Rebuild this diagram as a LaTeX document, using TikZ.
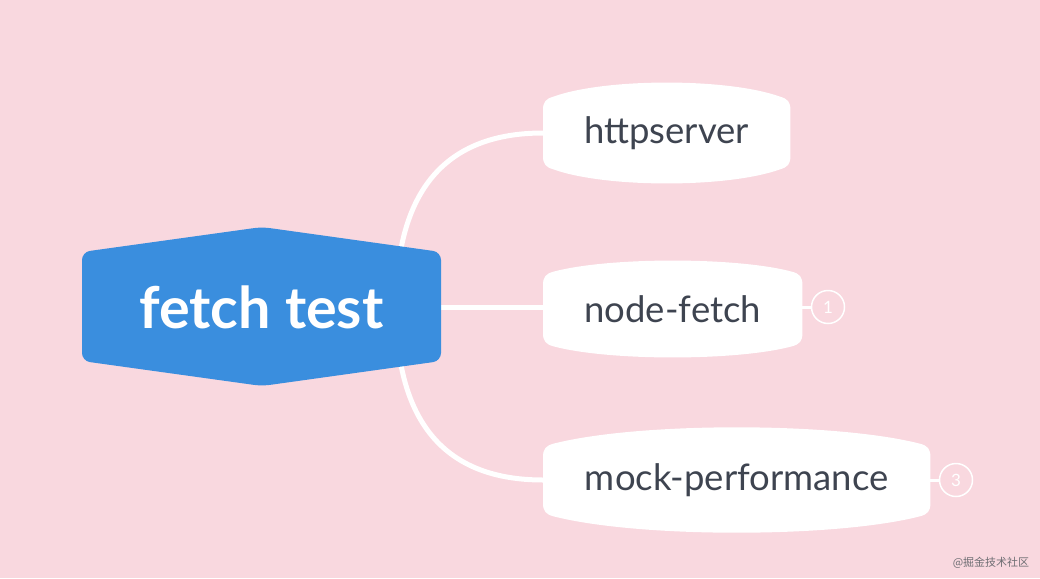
\documentclass[tikz,border=0pt]{standalone}
\usepackage{fontspec}
\setmainfont{Lato}
\newfontfamily\cjkfont{Noto Sans CJK SC}
\usetikzlibrary{calc}
\definecolor{bgpink}{RGB}{249,216,223}
\definecolor{rootblue}{RGB}{58,142,222}
\definecolor{txtgray}{RGB}{62,68,80}
\definecolor{wmgray}{RGB}{110,110,115}
\pgfdeclarelayer{bglayer}
\pgfdeclarelayer{shapelayer}
\pgfsetlayers{bglayer,shapelayer,main}
\tikzset{
  conn/.style={draw=white, line width=5pt},
  thinconn/.style={draw=white, line width=3pt},
  childnode/.style={rectangle, anchor=west, minimum height=66pt, inner sep=0pt,
    font=\fontsize{36.5}{42}\selectfont, text=txtgray},
  rootnode/.style={rectangle, minimum width=359pt, minimum height=108pt, inner sep=0pt,
    font=\fontsize{57.5}{66}\selectfont\bfseries, text=white},
  badge/.style={circle, draw=white, line width=1.5pt, minimum size=33pt, inner sep=0pt,
    font=\fontsize{17}{20}\selectfont, text=white},
}
% #1 node name, #2 bulge control height, #3 bulge control inset
\newcommand\childblob[3]{%
  \fill[white] ([yshift=-10pt]#1.north west) -- ([yshift=10pt]#1.south west)
    .. controls ([yshift=2pt]#1.south west) and ([xshift=3pt,yshift=-1pt]#1.south west) .. ([xshift=10pt,yshift=-3pt]#1.south west)
    .. controls ([xshift=#3,yshift=-#2]#1.south west) and ([xshift=-#3,yshift=-#2]#1.south east) .. ([xshift=-10pt,yshift=-3pt]#1.south east)
    .. controls ([xshift=-3pt,yshift=-1pt]#1.south east) and ([yshift=2pt]#1.south east) .. ([yshift=10pt]#1.south east)
    -- ([yshift=-10pt]#1.north east)
    .. controls ([yshift=-2pt]#1.north east) and ([xshift=-3pt,yshift=1pt]#1.north east) .. ([xshift=-10pt,yshift=3pt]#1.north east)
    .. controls ([xshift=-#3,yshift=#2]#1.north east) and ([xshift=#3,yshift=#2]#1.north west) .. ([xshift=10pt,yshift=3pt]#1.north west)
    .. controls ([xshift=3pt,yshift=1pt]#1.north west) and ([yshift=-2pt]#1.north west) .. ([yshift=-10pt]#1.north west) -- cycle;}
\begin{document}
\begin{tikzpicture}[x=1pt,y=-1pt]
\begin{pgfonlayer}{bglayer}
\path[use as bounding box, fill=bgpink] (0,0) rectangle (1040,578);
\end{pgfonlayer}
% nodes
\node[rootnode] (root) at (261.5,307) {fetch test};
\node[childnode, minimum width=247pt] (http) at (543,133) {httpserver};
\node[childnode, minimum width=259pt, minimum height=68pt] (nf) at (543,309) {node-fetch};
\node[childnode, minimum width=387pt] (mock) at (543,480) {mock-performance};
\node[badge] (b1) at (828,307) {1};
\node[badge] (b3) at (956,480) {3};
\node[font=\cjkfont\fontsize{11}{13}\selectfont, text=wmgray, inner sep=0pt] (wm) at (991,563) {@掘金技术社区};
\coordinate (j) at (396,307);
% shapes
\begin{pgfonlayer}{shapelayer}
\fill[rootblue, rounded corners=8pt] (82,252) -- (262,227) -- (441,252) -- (441,361) -- (262,386) -- (82,361) -- cycle;
\childblob{http}{22pt}{62pt}
\childblob{nf}{18pt}{65pt}
\childblob{mock}{25pt}{95pt}
\end{pgfonlayer}
% connectors
\begin{pgfonlayer}{bglayer}
\draw[conn] (j) .. controls ($(j)!0.667!(j|-http.west)$) and ($(http.west)!0.667!(j|-http.west)$) .. (http.west);
\draw[conn] (j) .. controls ($(j)!0.667!(j|-mock.west)$) and ($(mock.west)!0.667!(j|-mock.west)$) .. (mock.west);
\draw[conn] (root.east) -- (root.east -| nf.west);
\draw[thinconn] (nf.east |- b1.west) -- (b1.west);
\draw[thinconn] (mock.east |- b3.west) -- (b3.west);
\end{pgfonlayer}
\end{tikzpicture}
\end{document}
